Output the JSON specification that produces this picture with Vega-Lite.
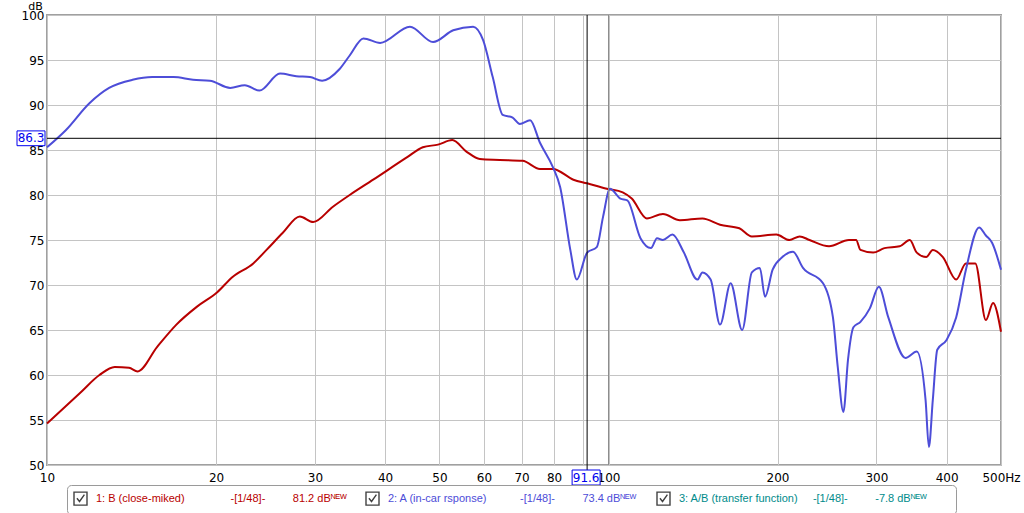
{
  "$schema": "https://vega.github.io/schema/vega-lite/v6.json",
  "width": 954,
  "height": 450,
  "autosize": {"type": "none"},
  "padding": {"left": 47, "top": 15, "right": 23, "bottom": 48},
  "background": "#ffffff",
  "config": {
    "view": {"stroke": "#a0a0a0", "strokeWidth": 2},
    "font": "DejaVu Sans",
    "axis": {
      "grid": true, "gridColor": "#c4c4c4", "gridWidth": 1,
      "domain": false, "ticks": false,
      "labelFont": "DejaVu Sans", "labelFontSize": 12, "labelColor": "#000000"
    }
  },
  "datasets": {
    "curves": [
      {"series": "B (close-miked)", "f": 10.0, "db": 54.6},
      {"series": "B (close-miked)", "f": 11.45, "db": 58.0},
      {"series": "B (close-miked)", "f": 12.4, "db": 60.0},
      {"series": "B (close-miked)", "f": 13.2, "db": 60.9},
      {"series": "B (close-miked)", "f": 14.0, "db": 60.8},
      {"series": "B (close-miked)", "f": 14.5, "db": 60.4},
      {"series": "B (close-miked)", "f": 15.7, "db": 63.1},
      {"series": "B (close-miked)", "f": 17.0, "db": 65.6},
      {"series": "B (close-miked)", "f": 18.5, "db": 67.6},
      {"series": "B (close-miked)", "f": 20.1, "db": 69.2},
      {"series": "B (close-miked)", "f": 21.4, "db": 70.9},
      {"series": "B (close-miked)", "f": 23.3, "db": 72.4},
      {"series": "B (close-miked)", "f": 24.6, "db": 73.9},
      {"series": "B (close-miked)", "f": 26.3, "db": 75.8},
      {"series": "B (close-miked)", "f": 28.2, "db": 77.6},
      {"series": "B (close-miked)", "f": 29.8, "db": 77.0},
      {"series": "B (close-miked)", "f": 32.3, "db": 78.7},
      {"series": "B (close-miked)", "f": 34.6, "db": 80.0},
      {"series": "B (close-miked)", "f": 38.1, "db": 81.7},
      {"series": "B (close-miked)", "f": 43.8, "db": 84.2},
      {"series": "B (close-miked)", "f": 46.7, "db": 85.3},
      {"series": "B (close-miked)", "f": 49.7, "db": 85.6},
      {"series": "B (close-miked)", "f": 52.7, "db": 86.1},
      {"series": "B (close-miked)", "f": 55.9, "db": 84.8},
      {"series": "B (close-miked)", "f": 59.0, "db": 84.0},
      {"series": "B (close-miked)", "f": 64.0, "db": 83.9},
      {"series": "B (close-miked)", "f": 70.3, "db": 83.8},
      {"series": "B (close-miked)", "f": 75.5, "db": 82.9},
      {"series": "B (close-miked)", "f": 79.6, "db": 82.9},
      {"series": "B (close-miked)", "f": 86.6, "db": 81.7},
      {"series": "B (close-miked)", "f": 91.6, "db": 81.3},
      {"series": "B (close-miked)", "f": 99.3, "db": 80.7},
      {"series": "B (close-miked)", "f": 106, "db": 80.3},
      {"series": "B (close-miked)", "f": 110, "db": 79.6},
      {"series": "B (close-miked)", "f": 117, "db": 77.4},
      {"series": "B (close-miked)", "f": 125, "db": 77.9},
      {"series": "B (close-miked)", "f": 134, "db": 77.2},
      {"series": "B (close-miked)", "f": 147, "db": 77.4},
      {"series": "B (close-miked)", "f": 158, "db": 76.7},
      {"series": "B (close-miked)", "f": 171, "db": 76.3},
      {"series": "B (close-miked)", "f": 180, "db": 75.4},
      {"series": "B (close-miked)", "f": 199, "db": 75.6},
      {"series": "B (close-miked)", "f": 210, "db": 75.0},
      {"series": "B (close-miked)", "f": 219, "db": 75.4},
      {"series": "B (close-miked)", "f": 228, "db": 75.0},
      {"series": "B (close-miked)", "f": 247, "db": 74.3},
      {"series": "B (close-miked)", "f": 268, "db": 75.0},
      {"series": "B (close-miked)", "f": 276, "db": 75.0},
      {"series": "B (close-miked)", "f": 281, "db": 73.9},
      {"series": "B (close-miked)", "f": 296, "db": 73.6},
      {"series": "B (close-miked)", "f": 310, "db": 74.1},
      {"series": "B (close-miked)", "f": 330, "db": 74.3},
      {"series": "B (close-miked)", "f": 344, "db": 75.0},
      {"series": "B (close-miked)", "f": 354, "db": 73.6},
      {"series": "B (close-miked)", "f": 368, "db": 73.1},
      {"series": "B (close-miked)", "f": 378, "db": 73.9},
      {"series": "B (close-miked)", "f": 394, "db": 73.1},
      {"series": "B (close-miked)", "f": 416, "db": 70.6},
      {"series": "B (close-miked)", "f": 433, "db": 72.4},
      {"series": "B (close-miked)", "f": 450, "db": 72.4},
      {"series": "B (close-miked)", "f": 470, "db": 66.1},
      {"series": "B (close-miked)", "f": 484, "db": 68.0},
      {"series": "B (close-miked)", "f": 500, "db": 64.8},
      {"series": "A (in-car rsponse)", "f": 10.0, "db": 85.3},
      {"series": "A (in-car rsponse)", "f": 10.8, "db": 87.2},
      {"series": "A (in-car rsponse)", "f": 11.9, "db": 90.2},
      {"series": "A (in-car rsponse)", "f": 12.9, "db": 91.9},
      {"series": "A (in-car rsponse)", "f": 14.2, "db": 92.8},
      {"series": "A (in-car rsponse)", "f": 15.4, "db": 93.1},
      {"series": "A (in-car rsponse)", "f": 16.8, "db": 93.1},
      {"series": "A (in-car rsponse)", "f": 18.2, "db": 92.8},
      {"series": "A (in-car rsponse)", "f": 19.5, "db": 92.7},
      {"series": "A (in-car rsponse)", "f": 21.2, "db": 91.9},
      {"series": "A (in-car rsponse)", "f": 22.5, "db": 92.2},
      {"series": "A (in-car rsponse)", "f": 23.9, "db": 91.6},
      {"series": "A (in-car rsponse)", "f": 26.0, "db": 93.5},
      {"series": "A (in-car rsponse)", "f": 27.8, "db": 93.2},
      {"series": "A (in-car rsponse)", "f": 29.4, "db": 93.1},
      {"series": "A (in-car rsponse)", "f": 30.9, "db": 92.7},
      {"series": "A (in-car rsponse)", "f": 33.2, "db": 94.0},
      {"series": "A (in-car rsponse)", "f": 34.6, "db": 95.5},
      {"series": "A (in-car rsponse)", "f": 36.6, "db": 97.4},
      {"series": "A (in-car rsponse)", "f": 39.2, "db": 96.9},
      {"series": "A (in-car rsponse)", "f": 44.3, "db": 98.7},
      {"series": "A (in-car rsponse)", "f": 48.7, "db": 97.0},
      {"series": "A (in-car rsponse)", "f": 52.9, "db": 98.3},
      {"series": "A (in-car rsponse)", "f": 57.4, "db": 98.7},
      {"series": "A (in-car rsponse)", "f": 59.8, "db": 97.2},
      {"series": "A (in-car rsponse)", "f": 62.2, "db": 93.1},
      {"series": "A (in-car rsponse)", "f": 64.8, "db": 88.9},
      {"series": "A (in-car rsponse)", "f": 67.5, "db": 88.6},
      {"series": "A (in-car rsponse)", "f": 69.5, "db": 87.9},
      {"series": "A (in-car rsponse)", "f": 72.5, "db": 88.3},
      {"series": "A (in-car rsponse)", "f": 75.5, "db": 85.8},
      {"series": "A (in-car rsponse)", "f": 79.6, "db": 83.1},
      {"series": "A (in-car rsponse)", "f": 82.0, "db": 80.9},
      {"series": "A (in-car rsponse)", "f": 85.5, "db": 73.9},
      {"series": "A (in-car rsponse)", "f": 87.8, "db": 70.6},
      {"series": "A (in-car rsponse)", "f": 91.6, "db": 73.6},
      {"series": "A (in-car rsponse)", "f": 95.3, "db": 74.2},
      {"series": "A (in-car rsponse)", "f": 97.8, "db": 77.6},
      {"series": "A (in-car rsponse)", "f": 100.6, "db": 80.7},
      {"series": "A (in-car rsponse)", "f": 105, "db": 79.6},
      {"series": "A (in-car rsponse)", "f": 108, "db": 79.4},
      {"series": "A (in-car rsponse)", "f": 114, "db": 75.2},
      {"series": "A (in-car rsponse)", "f": 119, "db": 74.1},
      {"series": "A (in-car rsponse)", "f": 122, "db": 75.2},
      {"series": "A (in-car rsponse)", "f": 125, "db": 75.0},
      {"series": "A (in-car rsponse)", "f": 130, "db": 75.6},
      {"series": "A (in-car rsponse)", "f": 136, "db": 73.7},
      {"series": "A (in-car rsponse)", "f": 144, "db": 70.6},
      {"series": "A (in-car rsponse)", "f": 147, "db": 71.4},
      {"series": "A (in-car rsponse)", "f": 152, "db": 70.6},
      {"series": "A (in-car rsponse)", "f": 158, "db": 65.6},
      {"series": "A (in-car rsponse)", "f": 165, "db": 70.2},
      {"series": "A (in-car rsponse)", "f": 173, "db": 65.0},
      {"series": "A (in-car rsponse)", "f": 180, "db": 71.4},
      {"series": "A (in-car rsponse)", "f": 186, "db": 71.9},
      {"series": "A (in-car rsponse)", "f": 190, "db": 68.7},
      {"series": "A (in-car rsponse)", "f": 196, "db": 71.7},
      {"series": "A (in-car rsponse)", "f": 204, "db": 73.1},
      {"series": "A (in-car rsponse)", "f": 213, "db": 73.7},
      {"series": "A (in-car rsponse)", "f": 222, "db": 71.9},
      {"series": "A (in-car rsponse)", "f": 241, "db": 70.2},
      {"series": "A (in-car rsponse)", "f": 251, "db": 66.4},
      {"series": "A (in-car rsponse)", "f": 256, "db": 60.9},
      {"series": "A (in-car rsponse)", "f": 262, "db": 55.9},
      {"series": "A (in-car rsponse)", "f": 267, "db": 61.7},
      {"series": "A (in-car rsponse)", "f": 273, "db": 65.3},
      {"series": "A (in-car rsponse)", "f": 281, "db": 65.9},
      {"series": "A (in-car rsponse)", "f": 292, "db": 67.4},
      {"series": "A (in-car rsponse)", "f": 303, "db": 69.8},
      {"series": "A (in-car rsponse)", "f": 315, "db": 66.4},
      {"series": "A (in-car rsponse)", "f": 338, "db": 61.9},
      {"series": "A (in-car rsponse)", "f": 354, "db": 62.6},
      {"series": "A (in-car rsponse)", "f": 367, "db": 57.2},
      {"series": "A (in-car rsponse)", "f": 372, "db": 52.0},
      {"series": "A (in-car rsponse)", "f": 378, "db": 57.2},
      {"series": "A (in-car rsponse)", "f": 385, "db": 62.8},
      {"series": "A (in-car rsponse)", "f": 400, "db": 63.9},
      {"series": "A (in-car rsponse)", "f": 416, "db": 66.4},
      {"series": "A (in-car rsponse)", "f": 433, "db": 71.7},
      {"series": "A (in-car rsponse)", "f": 457, "db": 76.4},
      {"series": "A (in-car rsponse)", "f": 470, "db": 75.5},
      {"series": "A (in-car rsponse)", "f": 482, "db": 74.7},
      {"series": "A (in-car rsponse)", "f": 500, "db": 71.7}
    ],
    "entries": [
      {"entry": "1", "label": "1: B (close-miked)", "level": "81.2 dB"},
      {"entry": "2", "label": "2: A (in-car rsponse)", "level": "73.4 dB"},
      {"entry": "3", "label": "3: A/B (transfer function)", "level": "-7.8 dB"}
    ]
  },
  "layer": [
    {
      "data": {"name": "curves"},
      "mark": {"type": "line", "strokeWidth": 2, "interpolate": "monotone"},
      "encoding": {
        "x": {
          "field": "f", "type": "quantitative",
          "scale": {"type": "log", "domain": [10, 500], "nice": false},
          "axis": {
            "title": null,
            "values": [10, 20, 30, 40, 50, 60, 70, 80, 90, 100, 200, 300, 400, 500],
            "labelExpr": "datum.value == 500 ? '500Hz' : datum.value == 90 ? '' : datum.label",
            "labelOverlap": false, "labelFlush": false, "labelPadding": 7
          }
        },
        "y": {
          "field": "db", "type": "quantitative",
          "scale": {"domain": [50, 100], "nice": false, "zero": false},
          "axis": {
            "values": [50, 55, 60, 65, 70, 75, 80, 85, 90, 95, 100],
            "labelPadding": 3,
            "title": "dB", "titleAngle": 0, "titleX": -12, "titleY": -6,
            "titleAlign": "center", "titleBaseline": "alphabetic",
            "titleFont": "DejaVu Sans", "titleFontSize": 11, "titleFontWeight": "normal", "titleColor": "#000000"
          }
        },
        "color": {
          "field": "series", "type": "nominal",
          "scale": {
            "domain": ["B (close-miked)", "A (in-car rsponse)"],
            "range": ["#b80000", "#4d4dd8"]
          },
          "legend": null
        }
      }
    },
    {
      "data": {"name": "entries"},
      "mark": {"type": "point", "opacity": 0, "filled": false},
      "encoding": {
        "x": {"datum": 10},
        "y": {"datum": 50},
        "shape": {
          "field": "entry", "type": "nominal",
          "scale": {
            "domain": ["1", "2", "3"],
            "range": ["M-1,-1H1V1H-1Z M-0.55,-0.05L-0.15,0.45L0.6,-0.6", "M-1,-1H1V1H-1Z M-0.55,-0.05L-0.15,0.45L0.6,-0.6", "M-1,-1H1V1H-1Z M-0.55,-0.05L-0.15,0.45L0.6,-0.6"]
          },
          "legend": {
            "orient": "none", "legendX": 20, "legendY": 470,
            "direction": "horizontal", "columns": 3, "title": null,
            "symbolSize": 169, "symbolOffset": 0, "labelOffset": 8,
            "symbolFillColor": "#e4e4e4", "symbolStrokeColor": "#404040", "symbolStrokeWidth": 1.4, "symbolOpacity": 1,
            "labelFont": "Liberation Sans", "labelFontSize": 11, "labelLimit": 0,
            "labelColor": {"expr": "datum.value === '1' ? '#b80000' : datum.value === '2' ? '#4d4dd8' : '#008b8b'"},
            "labelExpr": "datum.value === '1' ? '1: B (close-miked)\u00a0\u00a0\u00a0\u00a0\u00a0\u00a0\u00a0\u00a0\u00a0\u00a0\u00a0\u00a0\u00a0\u00a0\u00a0-[1/48]-\u00a0\u00a0\u00a0\u00a0\u00a0\u00a0\u00a0\u00a0\u00a081.2 dBᴺᴱᵂ' : datum.value === '2' ? '2: A (in-car rsponse)\u00a0\u00a0\u00a0\u00a0\u00a0\u00a0\u00a0\u00a0\u00a0\u00a0\u00a0-[1/48]-\u00a0\u00a0\u00a0\u00a0\u00a0\u00a0\u00a0\u00a0\u00a073.4 dBᴺᴱᵂ' : '3: A/B (transfer function)\u00a0\u00a0\u00a0\u00a0\u00a0-[1/48]-\u00a0\u00a0\u00a0\u00a0\u00a0\u00a0\u00a0\u00a0\u00a0-7.8 dBᴺᴱᵂ\u00a0\u00a0\u2800\u2800'",
            "padding": 6, "strokeColor": "#9a9a9a", "cornerRadius": 4, "fillColor": "#ffffff",
            "columnPadding": 16, "rowPadding": 0,
            "encode": {
              "labels": {"update": {"fill": {"signal": "datum.value === '1' ? '#b80000' : datum.value === '2' ? '#4d4dd8' : '#008b8b'"}}}
            }
          }
        }
      }
    },
    {
      "data": {"values": [{}]},
      "mark": {"type": "rule", "color": "#8c8c8c", "strokeWidth": 1},
      "encoding": {"x": {"datum": 100}}
    },
    {
      "data": {"values": [{}]},
      "mark": {"type": "rule", "color": "#000000", "strokeWidth": 1},
      "encoding": {"x": {"datum": 10}, "x2": {"datum": 500}, "y": {"datum": 86.3}}
    },
    {
      "data": {"values": [{}]},
      "mark": {"type": "rule", "color": "#000000", "strokeWidth": 1},
      "encoding": {"x": {"datum": 91.6}, "y": {"datum": 100}, "y2": {"datum": 49.44}}
    },
    {
      "data": {"values": [{}]},
      "mark": {"type": "point", "filled": true, "fill": "#ffffff", "stroke": "#0000ee", "strokeWidth": 1, "opacity": 1, "size": 64, "shape": "M-7.5,-1.85H-0.5V1.85H-7.5Z"},
      "encoding": {"x": {"datum": 10}, "y": {"datum": 86.3}}
    },
    {
      "data": {"values": [{}]},
      "mark": {"type": "point", "filled": true, "fill": "#ffffff", "stroke": "#0000ee", "strokeWidth": 1, "opacity": 1, "size": 64, "shape": "M-3.75,1.25H3.25V5H-3.75Z"},
      "encoding": {"x": {"datum": 91.6}, "y": {"datum": 50}}
    },
    {
      "data": {"values": [{}]},
      "mark": {"type": "text", "font": "DejaVu Sans", "fontSize": 12, "color": "#0000ee", "align": "center", "baseline": "middle", "dx": -16},
      "encoding": {"x": {"datum": 10}, "y": {"datum": 86.3}, "text": {"value": "86.3"}}
    },
    {
      "data": {"values": [{}]},
      "mark": {"type": "text", "font": "DejaVu Sans", "fontSize": 12, "color": "#0000ee", "align": "center", "baseline": "middle", "dx": -1, "dy": 12.5},
      "encoding": {"x": {"datum": 91.6}, "y": {"datum": 50}, "text": {"value": "91.6"}}
    }
  ]
}
